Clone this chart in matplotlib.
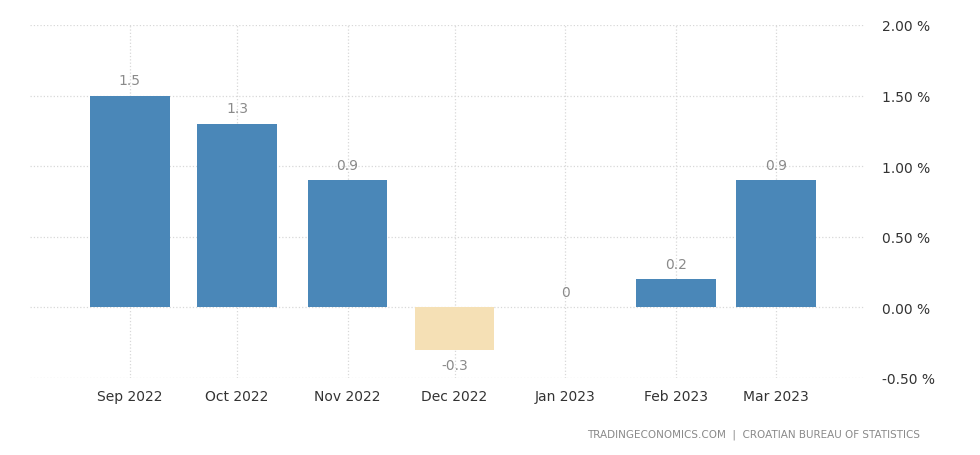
import numpy as np
import pandas as pd
import matplotlib
matplotlib.use("Agg")
import matplotlib.pyplot as plt
import matplotlib.dates as mdates

months = ["2022-09-01", "2022-10-01", "2022-11-01", "2022-12-01",
          "2023-01-01", "2023-02-01", "2023-03-01"]
labels = ["Sep 2022", "Oct 2022", "Nov 2022", "Dec 2022",
          "Jan 2023", "Feb 2023", "Mar 2023"]
values = [1.5, 1.3, 0.9, -0.3, 0.0, 0.2, 0.9]
value_text = ["1.5", "1.3", "0.9", "-0.3", "0", "0.2", "0.9"]
yticks = [-0.5, 0.0, 0.5, 1.0, 1.5, 2.0]

dates = pd.to_datetime(months)
BLUE = "#4a87b8"
BEIGE = "#f5e0b5"

fig = plt.figure(figsize=(9.8, 4.56), dpi=100)
ax = fig.add_axes([0.0306, 0.169, 0.852, 0.774])

x = mdates.date2num(dates)
colors = [BLUE if v >= 0 else BEIGE for v in values]
ax.bar(x, values, width=22.3, color=colors, zorder=2)

for xi, v, t in zip(x, values, value_text):
    if v >= 0:
        ax.text(xi, v + 0.06, t, ha="center", va="bottom", fontsize=10, color="#8a8a8a")
    else:
        ax.text(xi, v - 0.06, t, ha="center", va="top", fontsize=10, color="#8a8a8a")

ax.set_xlim(mdates.date2num(pd.Timestamp("2022-08-04")),
            mdates.date2num(pd.Timestamp("2023-03-26")))
ax.set_ylim(-0.5, 2.0)
ax.set_xticks(x)
ax.set_xticklabels(labels)
ax.set_yticks(yticks)
ax.set_yticklabels([f"{v:.2f} %" for v in yticks])
ax.yaxis.tick_right()

ax.tick_params(axis="both", length=0, labelsize=10, colors="#333333")
ax.tick_params(axis="x", pad=8)
ax.tick_params(axis="y", pad=12)
for s in ax.spines.values():
    s.set_visible(False)
ax.grid(True, color="#d8d8d8", linestyle=":", linewidth=0.9, zorder=0)
ax.set_axisbelow(True)

fig.text(0.939, 0.035, "TRADINGECONOMICS.COM  |  CROATIAN BUREAU OF STATISTICS",
         ha="right", va="bottom", fontsize=7.5, color="#8a8a8a")

fig.savefig("out.png", dpi=100)
